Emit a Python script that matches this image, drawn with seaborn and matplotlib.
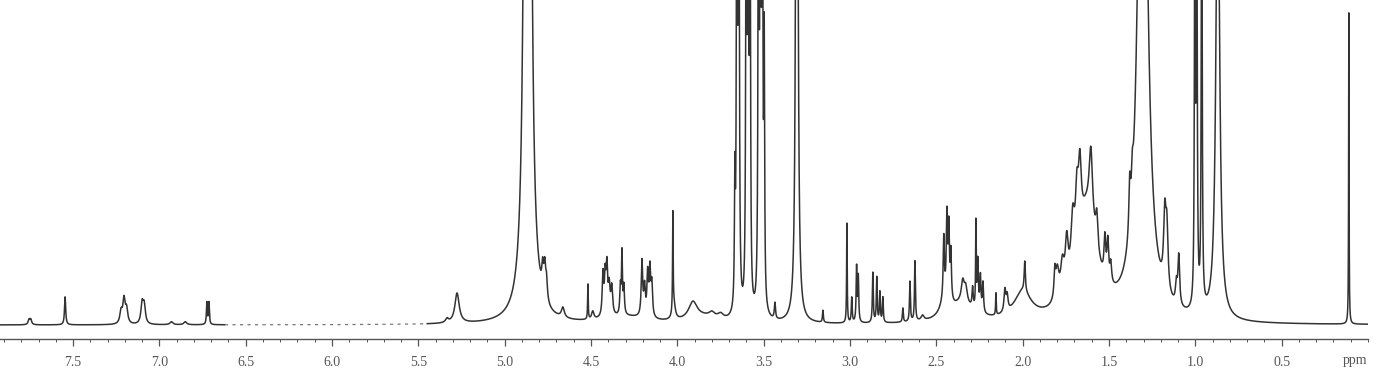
import numpy as np
import pandas as pd
import matplotlib
matplotlib.use("Agg")
import matplotlib.pyplot as plt
import seaborn as sns

# Peak list (ppm, height in px above baseline, half-width in ppm)
peak_ppm = [7.755, 7.745, 7.546,
            7.222, 7.205, 7.190, 7.100, 7.088, 6.725, 6.713, 6.93, 6.85,
            5.334, 5.276,
            4.867, 4.780, 4.768, 4.758, 4.663,
            4.518, 4.490, 4.431, 4.418, 4.408, 4.395, 4.380,
            4.330, 4.321, 4.310,
            4.205, 4.190, 4.172, 4.159, 4.148, 4.300,
            4.026, 4.020, 3.910, 3.800, 3.750, 3.850,
            3.667, 3.655, 3.644, 3.601, 3.590, 3.579,
            3.530, 3.519, 3.508, 3.497,
            3.435, 3.308, 3.157,
            3.018, 2.990, 2.962, 2.952,
            2.868, 2.845, 2.827, 2.810,
            2.694, 2.653, 2.624, 2.580,
            2.457, 2.439, 2.428, 2.416, 2.450,
            2.347, 2.330, 2.350,
            2.290, 2.271, 2.260, 2.245, 2.230,
            2.155, 2.103, 2.090, 1.988, 2.000,
            1.814, 1.800, 1.770, 1.745, 1.710, 1.686, 1.669, 1.605, 1.571,
            1.524, 1.507, 1.490, 1.630,
            1.380, 1.365, 1.305,
            1.177, 1.165, 1.110, 1.096,
            1.003, 0.992, 0.963, 0.870,
            0.111]
peak_height = [5, 5, 28,
               12, 24, 14, 20, 18, 22, 22, 3, 3,
               4, 30,
               7350, 25, 30, 20, 10,
               35, 8, 42, 38, 46, 28, 28,
               28, 60, 28,
               55, 28, 42, 46, 32, 7,
               98, 15, 17, 5, 5, 6,
               120, 700, 700, 600, 700, 500,
               600, 700, 700, 250,
               16, 1500, 12,
               100, 25, 55, 45,
               50, 45, 30, 25,
               14, 40, 60, 5,
               60, 80, 70, 48, 18,
               20, 15, 18,
               20, 85, 50, 35, 30,
               22, 22, 15, 30, 28,
               25, 30, 30, 45, 52, 55, 68, 72, 35,
               40, 40, 20, 105,
               50, 30, 729,
               70, 60, 20, 50,
               400, 500, 500, 500,
               312]
peak_width = [0.006, 0.006, 0.004,
              0.008, 0.008, 0.008, 0.008, 0.008, 0.003, 0.003, 0.01, 0.01,
              0.010, 0.015,
              0.006, 0.006, 0.006, 0.006, 0.010,
              0.002, 0.008, 0.005, 0.005, 0.005, 0.006, 0.006,
              0.004, 0.003, 0.004,
              0.005, 0.005, 0.005, 0.005, 0.005, 0.150,
              0.002, 0.010, 0.030, 0.020, 0.020, 0.100,
              0.0028, 0.0028, 0.0028, 0.0028, 0.0028, 0.0028,
              0.0028, 0.0028, 0.0028, 0.0028,
              0.004, 0.0045, 0.003,
              0.002, 0.003, 0.003, 0.003,
              0.003, 0.003, 0.003, 0.003,
              0.003, 0.003, 0.003, 0.010,
              0.004, 0.004, 0.004, 0.004, 0.030,
              0.010, 0.010, 0.080,
              0.004, 0.002, 0.004, 0.004, 0.004,
              0.002, 0.006, 0.006, 0.004, 0.060,
              0.005, 0.012, 0.012, 0.010, 0.012, 0.010, 0.010, 0.012, 0.008,
              0.006, 0.006, 0.006, 0.070,
              0.006, 0.006, 0.028,
              0.008, 0.008, 0.006, 0.006,
              0.003, 0.003, 0.003, 0.012,
              0.0015]

tick_values = [7.5, 7.0, 6.5, 6.0, 5.5, 5.0, 4.5, 4.0, 3.5, 3.0, 2.5, 2.0, 1.5, 1.0, 0.5]
tick_labels = ["7.5", "7.0", "6.5", "6.0", "5.5", "5.0", "4.5", "4.0", "3.5", "3.0",
               "2.5", "2.0", "1.5", "1.0", "0.5"]

# Build spectrum as a sum of Lorentzian lines
ppm = np.linspace(7.923, 0.0, 24000)
intensity = np.zeros_like(ppm)
for c, h, w in zip(peak_ppm, peak_height, peak_width):
    intensity += h * w**2 / (w**2 + (ppm - c) ** 2)

df = pd.DataFrame({"ppm": ppm, "intensity": intensity})

sns.set_theme(style="white")
plt.rcParams["font.family"] = ["Liberation Serif", "DejaVu Serif"]

fig = plt.figure(figsize=(13.77, 3.80), dpi=100)
ax = fig.add_axes([0.0, 41 / 380, 1368 / 1377, 339 / 380])

seg_left = df[df.ppm >= 6.62]
seg_mid = df[(df.ppm < 6.62) & (df.ppm > 5.45)]
seg_right = df[df.ppm <= 5.45]
line_col = "#333333"
sns.lineplot(data=seg_left, x="ppm", y="intensity", ax=ax, estimator=None, sort=False,
             color=line_col, lw=1.1)
sns.lineplot(data=seg_mid, x="ppm", y="intensity", ax=ax, estimator=None, sort=False,
             color="#777777", lw=0.9, linestyle=(0, (2.5, 3.5)))
sns.lineplot(data=seg_right, x="ppm", y="intensity", ax=ax, estimator=None, sort=False,
             color=line_col, lw=1.1)

ax.set_xlim(7.923, 0.0)
ax.set_ylim(-14, 325)
for s in ["top", "left", "right"]:
    ax.spines[s].set_visible(False)
ax.spines["bottom"].set_color("#555555")
ax.spines["bottom"].set_linewidth(1.0)
ax.set_xticks(tick_values)
ax.set_xticklabels(tick_labels)
ax.set_xticks(np.arange(0.0, 7.95, 0.1), minor=True)
ax.tick_params(axis="x", which="major", direction="out", length=5, width=0.9,
               color="#555555", labelsize=10, labelcolor="#555555", pad=7, bottom=True)
ax.tick_params(axis="x", which="minor", direction="out", length=2.5, width=0.7,
               color="#555555", bottom=True)
ax.set_yticks([])
ax.set_xlabel("")
ax.set_ylabel("")
ax.text(0.075, -29, "ppm", transform=ax.transData, ha="center", va="top",
        fontsize=10, color="#555555")

fig.savefig("out.png", dpi=100)
